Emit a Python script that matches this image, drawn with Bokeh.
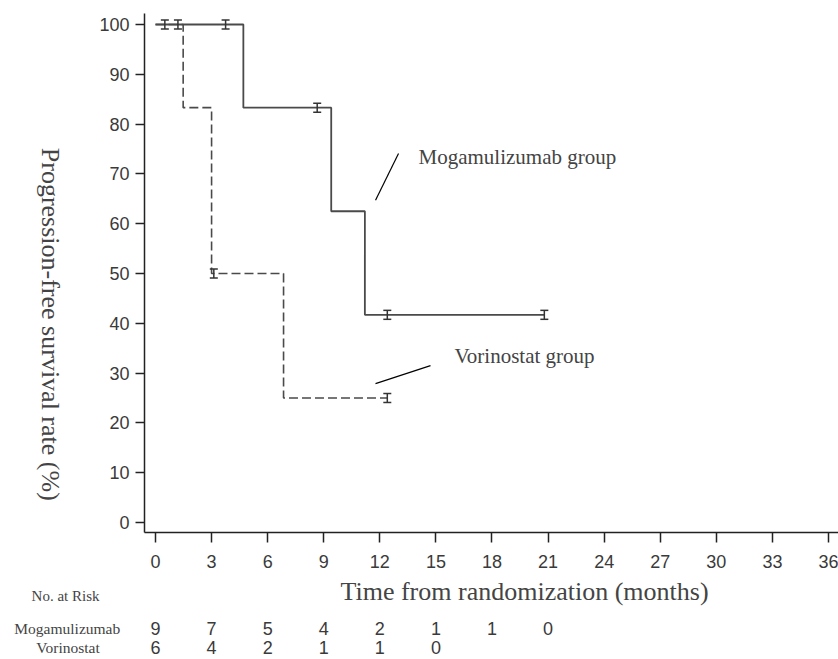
import numpy as np
from bokeh.plotting import figure
from bokeh.models import Range1d, FixedTicker, Label, LabelSet, ColumnDataSource
from bokeh.core.properties import value
from bokeh.embed import file_html
from bokeh.resources import INLINE

# ---- data ----
x_ticks = [0, 3, 6, 9, 12, 15, 18, 21, 24, 27, 30, 33, 36]
y_ticks = [0, 10, 20, 30, 40, 50, 60, 70, 80, 90, 100]

moga_t = [0, 4.7, 9.4, 11.2, 20.8]
moga_s = [100, 83.3, 62.5, 41.7, 41.7]
moga_cens_t = [0.5, 1.2, 3.75, 8.65, 12.4, 20.8]
moga_cens_s = [100, 100, 100, 83.3, 41.7, 41.7]

vor_t = [0, 1.48, 3.0, 6.85, 12.4]
vor_s = [100, 83.3, 50, 25, 25]
vor_cens_t = [3.12, 12.4]
vor_cens_s = [50, 25]

risk_times_moga = [0, 3, 6, 9, 12, 15, 18, 21]
risk_moga = [9, 7, 5, 4, 2, 1, 1, 0]
risk_times_vor = [0, 3, 6, 9, 12, 15]
risk_vor = [6, 4, 2, 1, 1, 0]

SERIF = "Liberation Serif"
SANS = "Liberation Sans"
LINE_COL = "#4a4a4a"

# axis extents (data units)
X_AX_START, Y_AX_START, Y_AX_END = -0.588, -2.008, 102.21

p = figure(width=838, height=659,
           x_range=Range1d(-8.2914, 36.536), y_range=Range1d(-27.51, 104.819),
           output_backend="svg", toolbar_location=None,
           min_border_left=0, min_border_right=0,
           min_border_top=0, min_border_bottom=0)
p.outline_line_color = None
p.xgrid.grid_line_color = None
p.ygrid.grid_line_color = None
p.background_fill_color = "white"
p.border_fill_color = "white"

for ax in (p.xaxis, p.yaxis):
    ax.axis_line_color = "#222222"
    ax.axis_line_width = 1.5
    ax.major_tick_line_color = "#222222"
    ax.major_tick_line_width = 1.5
    ax.minor_tick_line_color = None
    ax.major_tick_in = 0
    ax.major_label_text_font = SANS
    ax.major_label_text_font_size = "18px"
    ax.major_label_text_color = "#3a3a3a"

p.xaxis.ticker = FixedTicker(ticks=x_ticks)
p.yaxis.ticker = FixedTicker(ticks=y_ticks)
p.xaxis.fixed_location = Y_AX_START
p.yaxis.fixed_location = X_AX_START
p.xaxis.bounds = (X_AX_START, 36.536)
p.yaxis.bounds = (Y_AX_START, Y_AX_END)
p.xaxis.major_tick_out = 10
p.yaxis.major_tick_out = 9
p.xaxis.major_label_standoff = 13
p.yaxis.major_label_standoff = 6

# survival curves
p.step(moga_t, moga_s, mode="after", line_color=LINE_COL, line_width=1.8)
p.step(vor_t, vor_s, mode="after", line_color=LINE_COL, line_width=1.6,
       line_dash="9 4")

# censor marks
def censor(ts, ss):
    ts = np.asarray(ts, dtype=float)
    ss = np.asarray(ss, dtype=float)
    h = 0.9
    p.segment(x0=ts, y0=ss - h, x1=ts, y1=ss + h, line_color="#333333", line_width=1.5)
    p.scatter(ts, ss + h, marker="dash", size=8, line_color="#333333", line_width=1.5)
    p.scatter(ts, ss - h, marker="dash", size=8, line_color="#333333", line_width=1.5)

censor(moga_cens_t, moga_cens_s)
censor(vor_cens_t, vor_cens_s)

# group annotations with leader lines
p.segment(x0=[11.77, 11.77], y0=[64.7, 27.9], x1=[13.0, 14.71], y1=[74.1, 31.5],
          line_color="black", line_width=1.2)
p.add_layout(Label(x=14.07, y=73.3, text="Mogamulizumab group", text_font=SERIF,
                   text_font_size="21px", text_baseline="middle", text_align="left"))
p.add_layout(Label(x=15.99, y=33.5, text="Vorinostat group", text_font=SERIF,
                   text_font_size="21px", text_baseline="middle", text_align="left"))

# axis titles
p.add_layout(Label(x=19.74, y=-13.86, text="Time from randomization (months)",
                   text_font=SERIF, text_font_size="26px", text_align="center",
                   text_baseline="middle"))
p.add_layout(Label(x=-5.62, y=39.8, text="Progression-free survival rate (%)",
                   text_font=SERIF, text_font_size="26px", text_align="center",
                   text_baseline="middle", angle=-np.pi / 2))

# number at risk table
ROW_M, ROW_V = -21.2, -25.1
p.add_layout(Label(x=-4.81, y=-14.7, text="No. at Risk", text_font=SERIF,
                   text_font_size="15px", text_align="center", text_baseline="middle"))
p.add_layout(Label(x=-4.72, y=ROW_M, text="Mogamulizumab", text_font=SERIF,
                   text_font_size="15.5px", text_align="center", text_baseline="middle"))
p.add_layout(Label(x=-4.68, y=ROW_V, text="Vorinostat", text_font=SERIF,
                   text_font_size="15.5px", text_align="center", text_baseline="middle"))

src_m = ColumnDataSource(dict(x=risk_times_moga, y=[ROW_M] * len(risk_moga),
                              t=[str(v) for v in risk_moga]))
src_v = ColumnDataSource(dict(x=risk_times_vor, y=[ROW_V] * len(risk_vor),
                              t=[str(v) for v in risk_vor]))
for src in (src_m, src_v):
    p.add_layout(LabelSet(x="x", y="y", text="t", source=src,
                          text_font=value(SANS), text_font_size="18px",
                          text_color="#3a3a3a", text_align="center",
                          text_baseline="middle"))

open("out.html", "w").write(file_html(p, INLINE))
